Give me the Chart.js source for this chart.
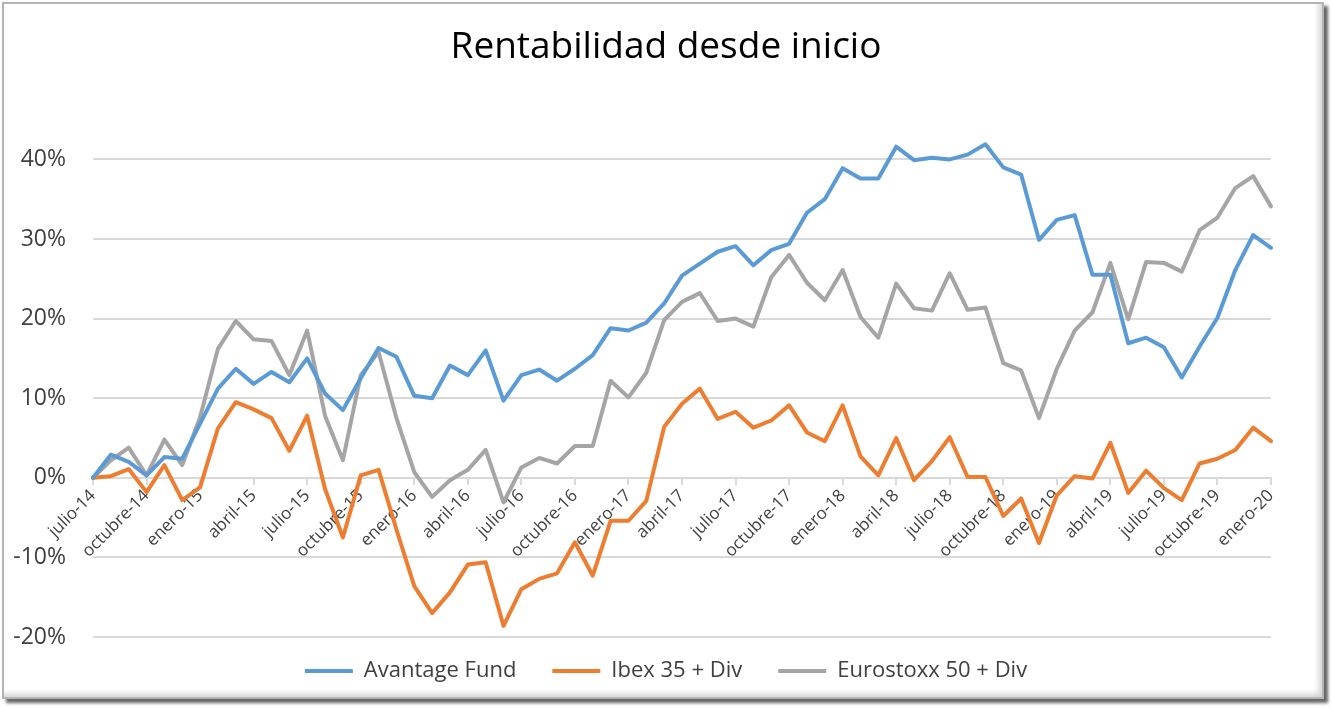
<!DOCTYPE html>
<html>
<head>
<meta charset="utf-8">
<script src="https://cdn.jsdelivr.net/npm/chart.js@4.4.1/dist/chart.umd.min.js"></script>
<style>
  html, body { margin: 0; padding: 0; background: #fff; }
  #frame {
    position: absolute; left: 2px; top: 2px; width: 1318px; height: 693px;
    border: 2px solid #b4b4b4;
    box-shadow: inset -6px -6px 6px -3px rgba(0,0,0,0.18), 4px 4px 3px rgba(0,0,0,0.6);
  }
  #wrap { position: absolute; left: 0; top: 0; width: 1332px; height: 710px; }
</style>
</head>
<body>
<div id="frame"></div>
<div id="wrap"><canvas id="chart" width="1332" height="710"></canvas></div>
<script>
// Meses (julio-14 a enero-20)
const labels = [
  'julio-14','agosto-14','septiembre-14','octubre-14','noviembre-14','diciembre-14',
  'enero-15','febrero-15','marzo-15','abril-15','mayo-15','junio-15',
  'julio-15','agosto-15','septiembre-15','octubre-15','noviembre-15','diciembre-15',
  'enero-16','febrero-16','marzo-16','abril-16','mayo-16','junio-16',
  'julio-16','agosto-16','septiembre-16','octubre-16','noviembre-16','diciembre-16',
  'enero-17','febrero-17','marzo-17','abril-17','mayo-17','junio-17',
  'julio-17','agosto-17','septiembre-17','octubre-17','noviembre-17','diciembre-17',
  'enero-18','febrero-18','marzo-18','abril-18','mayo-18','junio-18',
  'julio-18','agosto-18','septiembre-18','octubre-18','noviembre-18','diciembre-18',
  'enero-19','febrero-19','marzo-19','abril-19','mayo-19','junio-19',
  'julio-19','agosto-19','septiembre-19','octubre-19','noviembre-19','diciembre-19',
  'enero-20'
];

// Rentabilidad acumulada en %
const avantageFund = [
  0, 2.9, 2.0, 0.3, 2.6, 2.4, 6.8, 11.2, 13.7, 11.8, 13.3, 12.0,
  15.0, 10.6, 8.5, 12.5, 16.3, 15.2, 10.3, 10.0, 14.1, 12.9, 16.0, 9.7,
  12.9, 13.6, 12.2, 13.7, 15.4, 18.8, 18.5, 19.5, 21.9, 25.4, 26.9, 28.4,
  29.1, 26.7, 28.6, 29.4, 33.3, 35.0, 38.9, 37.6, 37.6, 41.6, 39.9, 40.2,
  40.0, 40.6, 41.9, 39.0, 38.1, 29.9, 32.4, 33.0, 25.5, 25.5, 16.9, 17.6,
  16.4, 12.6, 16.5, 20.1, 26.1, 30.5, 28.9
];

const ibexDiv = [
  0, 0.2, 1.1, -1.8, 1.6, -2.8, -1.2, 6.2, 9.5, 8.6, 7.5, 3.4,
  7.8, -1.4, -7.5, 0.3, 1.0, -6.5, -13.6, -17.0, -14.4, -10.9, -10.6, -18.6,
  -14.0, -12.7, -12.0, -8.1, -12.3, -5.4, -5.4, -2.9, 6.4, 9.3, 11.2, 7.4,
  8.3, 6.3, 7.2, 9.1, 5.7, 4.6, 9.1, 2.7, 0.3, 5.0, -0.3, 2.1,
  5.1, 0.1, 0.1, -4.8, -2.6, -8.2, -2.2, 0.2, -0.1, 4.4, -1.9, 0.9,
  -1.3, -2.8, 1.8, 2.4, 3.5, 6.3, 4.6
];

const eurostoxxDiv = [
  0, 2.2, 3.8, 0.3, 4.8, 1.6, 7.6, 16.2, 19.7, 17.4, 17.2, 12.9,
  18.5, 7.8, 2.2, 12.9, 15.8, 7.5, 0.7, -2.4, -0.3, 1.0, 3.5, -3.1,
  1.3, 2.5, 1.8, 4.0, 4.0, 12.2, 10.1, 13.2, 19.8, 22.1, 23.2, 19.7,
  20.0, 19.0, 25.2, 28.0, 24.5, 22.3, 26.1, 20.2, 17.6, 24.4, 21.3, 21.0,
  25.7, 21.1, 21.4, 14.4, 13.5, 7.5, 13.7, 18.5, 20.8, 27.0, 19.9, 27.1,
  27.0, 25.9, 31.1, 32.7, 36.4, 37.9, 34.1
];

const font = 'Open Sans';
const textColor = '#404040';
const gridColor = '#d9d9d9';

function serie(label, data, color) {
  return {
    label: label,
    data: data,
    borderColor: color,
    backgroundColor: color,
    borderWidth: 4,
    pointRadius: 0,
    tension: 0,
    borderJoinStyle: 'round',
    borderCapStyle: 'round',
    clip: false
  };
}

// sube la leyenda un poco hacia el gráfico
const legendShift = {
  id: 'legendShift',
  afterLayout(chart) {
    chart.legend.top -= 13;
    chart.legend.bottom -= 13;
  }
};

new Chart(document.getElementById('chart'), {
  type: 'line',
  data: {
    labels: labels,
    datasets: [
      serie('Avantage Fund', avantageFund, '#5b9bd5'),
      serie('Ibex 35 + Div', ibexDiv, '#ed7d31'),
      serie('Eurostoxx 50 + Div', eurostoxxDiv, '#a5a5a5')
    ]
  },
  plugins: [legendShift],
  options: {
    responsive: false,
    animation: false,
    layout: { padding: { left: 0, right: 0, top: 0, bottom: 5 } },
    plugins: {
      title: {
        display: true,
        text: 'Rentabilidad desde inicio',
        color: '#000',
        font: { family: font, size: 37, weight: 'normal' },
        padding: { top: 25, bottom: 90 }
      },
      legend: {
        position: 'bottom',
        labels: {
          usePointStyle: true,
          pointStyle: 'line',
          pointStyleWidth: 48,
          color: textColor,
          font: { family: font, size: 22 },
          padding: 36
        }
      },
      tooltip: { enabled: false }
    },
    scales: {
      x: {
        position: { y: 0 },
        grid: {
          drawOnChartArea: false,
          drawTicks: true,
          tickLength: 6,
          lineWidth: 2,
          color: ctx => (ctx.index % 3 === 0 ? gridColor : 'rgba(0,0,0,0)')
        },
        border: { display: true, color: gridColor, width: 2 },
        ticks: {
          autoSkip: false,
          minRotation: 45,
          maxRotation: 45,
          padding: 2,
          color: textColor,
          font: { family: font, size: 17 },
          callback: function (value, index) {
            return index % 3 === 0 ? this.getLabelForValue(value) : '';
          }
        }
      },
      y: {
        min: -20,
        max: 40,
        afterFit: scale => { scale.width = 93; },
        grid: { color: gridColor, lineWidth: 2, drawTicks: false },
        border: { display: false },
        ticks: {
          stepSize: 10,
          padding: 27,
          color: textColor,
          font: { family: font, size: 23 },
          callback: v => v + '%'
        }
      },
      // eje vacío a la derecha, solo para dejar el margen
      yRight: {
        position: 'right',
        afterFit: scale => { scale.width = 61; },
        grid: { display: false },
        border: { display: false },
        ticks: { display: false }
      }
    }
  }
});
</script>
</body>
</html>
